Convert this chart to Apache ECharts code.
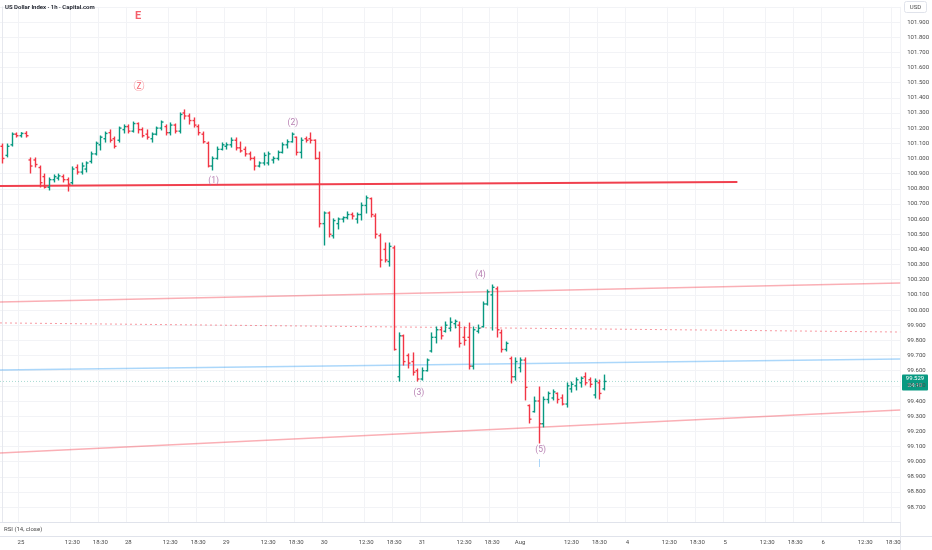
<!DOCTYPE html>
<html>
<head>
<meta charset="utf-8">
<script src="https://cdn.jsdelivr.net/npm/echarts@6/dist/echarts.min.js"></script>
<style>
html,body{margin:0;padding:0;background:#fff;}
#c{width:932px;height:550px;}
</style>
</head>
<body>
<div id="c"></div>
<script>
// ---- data ----
const opens  = [101.08,101.02,101.09,101.16,101.15,101.165,100.99,100.99,100.94,100.88,100.81,100.86,100.87,100.88,100.86,100.84,100.94,100.91,100.93,100.98,101.03,101.09,101.13,101.17,101.13,101.12,101.19,101.21,101.18,101.23,101.19,101.16,101.13,101.16,101.20,101.21,101.17,101.22,101.18,101.30,101.28,101.25,101.21,101.16,101.10,100.95,101.00,101.06,101.08,101.09,101.12,101.07,101.06,101.03,101.00,100.95,100.97,100.97,100.99,101.00,101.04,101.09,101.11,101.14,101.04,101.13,101.13,101.12,101.00,100.57,100.64,100.49,100.57,100.60,100.61,100.63,100.60,100.63,100.69,100.735,100.62,100.49,100.40,100.32,100.41,99.56,99.83,99.70,99.66,99.60,99.545,99.60,99.73,99.82,99.87,99.86,99.88,99.91,99.90,99.82,99.82,99.63,99.86,99.89,100.04,100.10,100.14,99.85,99.74,99.68,99.56,99.62,99.67,99.37,99.33,99.40,99.25,99.41,99.42,99.45,99.42,99.38,99.48,99.50,99.52,99.56,99.54,99.44,99.52,99.48];
const highs  = [101.095,101.095,101.168,101.168,101.170,101.176,101.003,101.003,100.950,100.897,100.871,100.891,100.897,100.891,100.871,100.944,100.957,100.970,100.977,101.042,101.108,101.148,101.174,101.188,101.141,101.207,101.221,101.221,101.240,101.234,101.201,101.188,101.168,101.207,101.247,101.221,101.234,101.227,101.300,101.320,101.293,101.267,101.221,101.174,101.108,101.010,101.075,101.102,101.102,101.135,101.135,101.108,101.075,101.042,101.010,100.977,101.036,101.042,101.010,101.049,101.102,101.122,101.168,101.141,101.135,101.141,101.168,101.122,101.042,100.647,100.647,100.601,100.607,100.614,100.647,100.640,100.640,100.706,100.752,100.739,100.634,100.502,100.442,100.442,100.422,99.849,99.835,99.710,99.717,99.611,99.618,99.677,99.849,99.888,99.888,99.921,99.948,99.934,99.921,99.888,99.914,99.888,99.901,100.053,100.132,100.165,100.152,99.868,99.789,99.690,99.684,99.684,99.684,99.374,99.426,99.492,99.426,99.459,99.473,99.453,99.440,99.519,99.525,99.552,99.558,99.585,99.552,99.545,99.538,99.571];
const lows   = [100.970,101.010,101.082,101.141,101.141,101.141,100.904,100.944,100.812,100.805,100.792,100.845,100.858,100.845,100.785,100.831,100.897,100.897,100.911,100.970,101.023,101.056,101.108,101.108,101.069,101.108,101.168,101.168,101.174,101.168,101.141,101.128,101.108,101.155,101.188,101.155,101.155,101.168,101.168,101.260,101.227,101.207,101.155,101.102,100.944,100.924,100.996,101.056,101.062,101.075,101.056,101.042,101.016,100.990,100.924,100.944,100.957,100.957,100.970,100.990,101.036,101.069,101.108,101.023,101.003,101.108,101.102,100.996,100.548,100.429,100.482,100.475,100.535,100.581,100.601,100.601,100.574,100.594,100.640,100.614,100.475,100.284,100.317,100.290,99.736,99.532,99.637,99.618,99.571,99.532,99.538,99.598,99.723,99.783,99.809,99.855,99.862,99.882,99.756,99.769,99.611,99.611,99.849,99.888,100.033,99.868,99.822,99.723,99.730,99.519,99.538,99.592,99.407,99.255,99.327,99.123,99.229,99.387,99.407,99.387,99.374,99.360,99.459,99.473,99.492,99.506,99.492,99.420,99.413,99.473];
const closes = [101.00,101.08,101.16,101.15,101.165,101.15,100.95,100.96,100.84,100.81,100.86,100.88,100.885,100.86,100.83,100.93,100.91,100.95,100.97,101.03,101.10,101.14,101.165,101.12,101.08,101.20,101.21,101.18,101.23,101.19,101.15,101.14,101.16,101.20,101.24,101.17,101.22,101.18,101.29,101.28,101.25,101.22,101.17,101.11,100.95,101.00,101.06,101.09,101.09,101.12,101.07,101.05,101.03,101.00,100.95,100.97,101.02,101.03,101.00,101.04,101.09,101.11,101.16,101.04,101.12,101.12,101.12,101.00,100.57,100.64,100.50,100.59,100.60,100.61,100.63,100.62,100.63,100.69,100.74,100.63,100.50,100.33,100.33,100.42,99.74,99.83,99.66,99.65,99.59,99.545,99.60,99.67,99.82,99.87,99.83,99.90,99.92,99.925,99.78,99.80,99.63,99.87,99.88,100.04,100.12,100.15,99.87,99.74,99.78,99.56,99.66,99.67,99.49,99.28,99.40,99.25,99.41,99.45,99.46,99.41,99.38,99.50,99.51,99.54,99.55,99.52,99.51,99.53,99.45,99.529];

const slotCount = 193;
const timeTickIdx  = [4,15,21,27,36,42,48,57,63,69,78,84,90,99,105,111,122,128,134,143,149,155,164,170,176,185,191];
const timeTickText = ['25','12:30','18:30','28','12:30','18:30','29','12:30','18:30','30','12:30','18:30','31','12:30','18:30','Aug','12:30','18:30','4','12:30','18:30','5','12:30','18:30','6','12:30','18:30'];

const priceMin = 98.6, priceMax = 102.0, priceStep = 0.1;
const priceLabelMin = 98.65, priceLabelMax = 101.95;

// trendlines: [xStart, vStart, xEnd, vEnd]
const redLevel   = [-0.5, 100.818, 157.6, 100.845];
const upperLine  = [-0.5, 100.053, 192.5, 100.178];
const dottedLine = [-0.5, 99.915, 192.5, 99.855];
const blueLine   = [-0.5, 99.605, 192.5, 99.677];
const lowerLine  = [-0.5, 99.057, 192.5, 99.341];

// wave labels: text, x slot, price
const waveText  = ['E','Ⓩ','(1)','(2)','(3)','(4)','(5)','|'];
const waveX     = [29.1, 29.3, 45.3, 62.3, 89.3, 102.5, 115.4, 115.2];
const waveY     = [101.94, 101.471, 100.851, 101.234, 99.453, 100.231, 99.077, 98.984];

const lastTimer = '24:10';

// ---- build ----
const categories = Array.from({length: slotCount}, (_, k) => {
  const j = timeTickIdx.indexOf(k);
  return j >= 0 ? timeTickText[j] : '';
});
const ohlc = opens.map((o, k) => [k, o, closes[k], lows[k], highs[k]]);

const GREEN = '#089981', RED = '#f23645';
const FONT = 'Roboto, "Noto Sans", sans-serif';

function renderBar(params, api) {
  const k = api.value(0), o = api.value(1), c = api.value(2), l = api.value(3), h = api.value(4);
  const pH = api.coord([k, h]), pL = api.coord([k, l]);
  const pO = api.coord([k, o]), pC = api.coord([k, c]);
  const color = c >= o ? GREEN : RED;
  const x = Math.round(pH[0]) + 0.5;
  const st = {stroke: color, lineWidth: 1.4};
  return {
    type: 'group',
    children: [
      {type: 'line', shape: {x1: x, y1: pH[1] - 0.5, x2: x, y2: pL[1] + 0.5}, style: st},
      {type: 'line', shape: {x1: x - 2, y1: pO[1], x2: x, y2: pO[1]}, style: st},
      {type: 'line', shape: {x1: x, y1: pC[1], x2: x + 2, y2: pC[1]}, style: st}
    ]
  };
}

function seg(arr, color, width, type) {
  return {
    type: 'line', xAxisIndex: 1, yAxisIndex: 0, silent: true, symbol: 'none',
    data: [[arr[0], arr[1]], [arr[2], arr[3]]],
    lineStyle: {color: color, width: width, type: type || 'solid'},
    z: 3, animation: false
  };
}

const waveColors = {'E': RED, 'Ⓩ': RED, '|': '#64b5f6'};
const waveData = waveText.map((t, i) => ({
  value: [waveX[i], waveY[i]],
  label: {
    show: true, position: 'inside', formatter: t,
    color: waveColors[t] || '#a5609f',
    fontSize: (t === 'E' || t === 'Ⓩ') ? 11 : (t === '|' ? 9 : 8.5),
    fontWeight: t === 'E' ? 'bold' : 'normal',
    fontFamily: t === 'Ⓩ' ? '"DejaVu Sans", "Noto Sans CJK SC"' : FONT
  }
}));

const lastClose = closes[closes.length - 1];

const chart = echarts.init(document.getElementById('c'), null, {renderer: 'canvas'});
const option = {
  animation: false,
  backgroundColor: '#ffffff',
  grid: {left: 0, right: 31, top: 6.84, bottom: 27.72},
  xAxis: [
    {
      type: 'category', data: categories, boundaryGap: true,
      axisLine: {show: true, lineStyle: {color: '#e0e3eb'}},
      axisTick: {show: false},
      axisLabel: {
        interval: (i, v) => v !== '', color: '#4a4a4a', fontSize: 6, margin: 17, fontFamily: FONT,
        hideOverlap: false
      },
      splitLine: {show: true, interval: (i, v) => v !== '', lineStyle: {color: '#f2f3f6', width: 1}}
    },
    {type: 'value', min: -0.5, max: slotCount - 0.5, show: false}
  ],
  yAxis: {
    type: 'value', position: 'right', min: priceMin, max: priceMax, interval: priceStep,
    axisLine: {show: true, lineStyle: {color: '#e6e8ee'}},
    axisTick: {show: false},
    axisLabel: {
      color: '#4a4a4a', fontSize: 6, margin: 7, fontFamily: FONT,
      formatter: v => (v > priceLabelMax || v < priceLabelMin) ? '' : v.toFixed(3)
    },
    splitLine: {show: true, lineStyle: {color: '#f2f3f6', width: 1}}
  },
  series: [
    seg([-0.5, lastClose, slotCount - 0.5, lastClose], 'rgba(8,153,129,0.35)', 1, [1, 2]),
    seg(redLevel, '#f0404e', 2),
    seg(upperLine, 'rgba(242,54,69,0.4)', 1.5),
    seg(dottedLine, 'rgba(242,54,69,0.5)', 1, [2, 3]),
    seg(blueLine, 'rgba(33,150,243,0.38)', 1.5),
    seg(lowerLine, 'rgba(242,54,69,0.4)', 1.5),
    {
      type: 'custom', xAxisIndex: 0, yAxisIndex: 0, renderItem: renderBar,
      data: ohlc, encode: {x: 0, y: [1, 2, 3, 4]}, z: 5, animation: false
    },
    {
      type: 'scatter', xAxisIndex: 1, yAxisIndex: 0, symbol: 'circle', symbolSize: 0.01,
      itemStyle: {color: 'rgba(0,0,0,0)'},
      data: waveData, z: 6, silent: true
    }
  ]
};
chart.setOption(option);

const py = chart.convertToPixel({yAxisIndex: 0}, lastClose);
chart.setOption({
  graphic: [
    {type: 'text', left: 5, top: 4, style: {text: 'US Dollar Index · 1h · Capital.com', fill: '#131722', font: '600 6px ' + FONT}},
    {type: 'rect', shape: {x: 904.5, y: 1.5, width: 22, height: 11, r: 2}, style: {fill: '#fff', stroke: '#e0e3eb', lineWidth: 1}},
    {type: 'text', x: 915.5, y: 7, style: {text: 'USD', fill: '#4a4a4a', font: '6px ' + FONT, textAlign: 'center', textVerticalAlign: 'middle'}},
    {type: 'line', shape: {x1: 0, y1: 536.5, x2: 932, y2: 536.5}, style: {stroke: '#e0e3eb', lineWidth: 1}},
    {type: 'line', shape: {x1: 900.5, y1: 522, x2: 900.5, y2: 550}, style: {stroke: '#e6e8ee', lineWidth: 1}},
    {type: 'text', left: 4, top: 526, style: {text: 'RSI (14, close)', fill: '#4a4a4a', font: '6px ' + FONT}},
    {type: 'rect', shape: {x: 902, y: py - 7, width: 26, height: 16, r: 1}, style: {fill: GREEN}},
    {type: 'text', x: 915, y: py - 2.5, style: {text: lastClose.toFixed(3), fill: '#fff', font: '6px ' + FONT, textAlign: 'center', textVerticalAlign: 'middle'}},
    {type: 'text', x: 915, y: py + 4.5, style: {text: lastTimer, fill: '#fff', font: '6px ' + FONT, textAlign: 'center', textVerticalAlign: 'middle'}}
  ]
});
</script>
</body>
</html>
